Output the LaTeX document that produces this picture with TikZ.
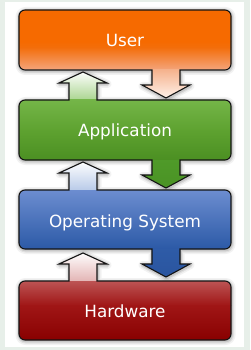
\documentclass[tikz,border=0pt]{standalone}
\usepackage{fontspec}
\newfontfamily\lblfont{DejaVu Sans}
\definecolor{frameC}{HTML}{E7EFE9}
\definecolor{uTop}{HTML}{F66A00}
\definecolor{uMid}{HTML}{F36E0C}
\definecolor{uBot}{HTML}{F4A67E}
\definecolor{uArr}{HTML}{F5B38E}
\definecolor{uTip}{HTML}{FFF3EC}
\definecolor{aArr}{HTML}{A9D48E}
\definecolor{aTop}{HTML}{74B548}
\definecolor{aMid}{HTML}{5EA230}
\definecolor{aBot}{HTML}{4B8F22}
\definecolor{aDn}{HTML}{4F9A29}
\definecolor{aDnTip}{HTML}{4A9224}
\definecolor{oArr}{HTML}{B8CAE8}
\definecolor{oTop}{HTML}{6C8DD0}
\definecolor{oBot}{HTML}{2B59A6}
\definecolor{oDn}{HTML}{2E5BA7}
\definecolor{oDnTip}{HTML}{2A559F}
\definecolor{hArr}{HTML}{E3B4B4}
\definecolor{hTop}{HTML}{BC5454}
\definecolor{hMid}{HTML}{A01616}
\definecolor{hBot}{HTML}{880000}
\def\shpUser{(19,16) .. controls (19,12.7) and (21.7,10) .. (25,10) -- (225,10) .. controls (228.3,10) and (231,12.7) .. (231,16) -- (231,64) .. controls (231,67.3) and (228.3,70) .. (225,70) -- (180,70) -- (180,85) -- (190,85) -- (166,98) -- (142,85) -- (152,85) -- (152,70) -- (25,70) .. controls (21.7,70) and (19,67.3) .. (19,64) -- cycle}
\def\shpApp{(19,106) .. controls (19,102.7) and (21.7,100) .. (25,100) -- (69,100) -- (69,83) -- (59,83) -- (83,72) -- (107,83) -- (97,83) -- (97,100) -- (225,100) .. controls (228.3,100) and (231,102.7) .. (231,106) -- (231,154) .. controls (231,157.3) and (228.3,160) .. (225,160) -- (180,160) -- (180,175) -- (190,175) -- (166,188) -- (142,175) -- (152,175) -- (152,160) -- (25,160) .. controls (21.7,160) and (19,157.3) .. (19,154) -- cycle}
\def\shpOS{(19,196) .. controls (19,192.7) and (21.7,190) .. (25,190) -- (69,190) -- (69,173) -- (59,173) -- (83,162) -- (107,173) -- (97,173) -- (97,190) -- (225,190) .. controls (228.3,190) and (231,192.7) .. (231,196) -- (231,243) .. controls (231,246.3) and (228.3,249) .. (225,249) -- (180,249) -- (180,264) -- (190,264) -- (166,277) -- (142,264) -- (152,264) -- (152,249) -- (25,249) .. controls (21.7,249) and (19,246.3) .. (19,243) -- cycle}
\def\shpHW{(19,287) .. controls (19,283.7) and (21.7,281) .. (25,281) -- (69,281) -- (69,264) -- (59,264) -- (83,253) -- (107,264) -- (97,264) -- (97,281) -- (225,281) .. controls (228.3,281) and (231,283.7) .. (231,287) -- (231,334) .. controls (231,337.3) and (228.3,340) .. (225,340) -- (25,340) .. controls (21.7,340) and (19,337.3) .. (19,334) -- cycle}
\newcommand\softshadow[1]{%
  \draw[black, draw opacity=0.05, line width=8pt, line join=round, shift={(0.5,1)}] #1;
  \draw[black, draw opacity=0.07, line width=5pt, line join=round, shift={(0.5,1)}] #1;
  \draw[black, draw opacity=0.10, line width=2.6pt, line join=round, shift={(0.5,1)}] #1;}
\begin{document}
\begin{tikzpicture}[x=1pt,y=-1pt,
  outline/.style={draw=black!92, line width=1.1pt},
  lbl/.style={text=white, font=\lblfont\fontsize{16.8}{20}\selectfont, anchor=base, inner sep=0pt}]
\useasboundingbox (0,0) rectangle (250,350);
\fill[frameC] (0,0) rectangle (250,350);
\fill[white] (5,2) rectangle (244,347);
% shadows
\softshadow{\shpUser}
\softshadow{\shpApp}
\softshadow{\shpOS}
\softshadow{\shpHW}
% User layer
\begin{scope}
  \clip \shpUser;
  \fill[uTop] (0,8) rectangle (250,42);
  \shade[top color=uTop, bottom color=uMid] (0,41.5) rectangle (250,48);
  \shade[top color=uMid, bottom color=uBot] (0,47.5) rectangle (250,70.5);
  \shade[top color=uArr, bottom color=uTip] (0,70) rectangle (250,99);
\end{scope}
\draw[outline] \shpUser;
% Application layer
\begin{scope}
  \clip \shpApp;
  \shade[top color=white, bottom color=aArr] (0,71) rectangle (250,100.5);
  \shade[top color=aTop, bottom color=aMid] (0,100) rectangle (250,130.5);
  \shade[top color=aMid, bottom color=aBot] (0,130) rectangle (250,160.5);
  \shade[top color=aDn, bottom color=aDnTip] (0,160) rectangle (250,189);
\end{scope}
\draw[outline] \shpApp;
% Operating System layer
\begin{scope}
  \clip \shpOS;
  \shade[top color=white, bottom color=oArr] (0,161) rectangle (250,190.5);
  \shade[top color=oTop, bottom color=oBot] (0,190) rectangle (250,249.5);
  \shade[top color=oDn, bottom color=oDnTip] (0,249) rectangle (250,278);
\end{scope}
\draw[outline] \shpOS;
% Hardware layer
\begin{scope}
  \clip \shpHW;
  \shade[top color=white, bottom color=hArr] (0,252) rectangle (250,281.5);
  \shade[top color=hTop, bottom color=hMid] (0,281) rectangle (250,305.5);
  \shade[top color=hMid, bottom color=hBot] (0,305) rectangle (250,341);
\end{scope}
\draw[outline] \shpHW;
% labels
\node[lbl] (user) at (125,46.5) {User};
\node[lbl] (app) at (125,136.5) {Application};
\node[lbl] (os) at (125,227) {Operating System};
\node[lbl] (hw) at (125,317.5) {Hardware};
\end{tikzpicture}
\end{document}
